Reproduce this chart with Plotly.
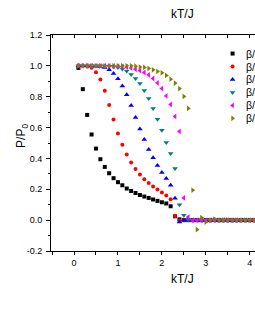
import plotly.graph_objects as go

# x values (kT/J)
kT = [0.1, 0.2, 0.3, 0.4, 0.5, 0.6, 0.7, 0.8, 0.9, 1.0,
      1.1, 1.2, 1.3, 1.4, 1.5, 1.6, 1.7, 1.8, 1.9, 2.0,
      2.1, 2.2, 2.3, 2.4, 2.5, 2.6, 2.7, 2.8, 2.9, 3.0,
      3.1, 3.2, 3.3, 3.4, 3.5, 3.6, 3.7, 3.8, 3.9, 4.0, 4.1]

s_black = [0.987, 0.849, 0.682, 0.555, 0.464, 0.395, 0.345, 0.304, 0.272, 0.246,
           0.226, 0.205, 0.189, 0.176, 0.163, 0.153, 0.144, 0.134, 0.125, 0.116,
           0.108, 0.090, 0.025, 0.005, 0.0, 0.0, 0.0, 0.0, 0.0, 0.0,
           0.0, 0.0, 0.0, 0.0, 0.0, 0.0, 0.0, 0.0, 0.0, 0.0, 0.0]
s_red = [1.000, 0.999, 0.996, 0.987, 0.959, 0.912, 0.838, 0.747, 0.652, 0.562,
         0.488, 0.425, 0.374, 0.332, 0.296, 0.265, 0.241, 0.218, 0.198, 0.179,
         0.160, 0.136, 0.027, -0.003, 0.0, 0.0, 0.0, 0.0, 0.0, 0.0,
         0.0, 0.0, 0.0, 0.0, 0.0, 0.0, 0.0, 0.0, 0.0, 0.0, 0.0]
s_blue = [1.000, 1.000, 1.000, 0.999, 0.998, 0.996, 0.990, 0.974, 0.951, 0.916,
          0.870, 0.812, 0.743, 0.665, 0.591, 0.523, 0.458, 0.405, 0.354, 0.309,
          0.270, 0.226, 0.142, -0.012, 0.0, 0.0, 0.0, 0.0, 0.0, 0.0,
          0.0, 0.0, 0.0, 0.0, 0.0, 0.0, 0.0, 0.0, 0.0, 0.0, 0.0]
s_teal = [1.000, 1.000, 1.000, 1.000, 1.000, 1.000, 0.999, 0.998, 0.995, 0.989,
          0.979, 0.966, 0.944, 0.918, 0.886, 0.840, 0.789, 0.724, 0.654, 0.583,
          0.503, 0.432, 0.335, 0.099, 0.032, 0.003, 0.0, 0.0, 0.0, 0.0,
          0.0, 0.0, 0.0, 0.0, 0.0, 0.0, 0.0, 0.0, 0.0, 0.0, 0.0]
s_magenta = [1.000, 1.000, 1.000, 1.000, 1.000, 1.000, 1.000, 1.000, 0.999, 0.998,
             0.996, 0.993, 0.986, 0.978, 0.969, 0.957, 0.942, 0.918, 0.890, 0.853,
             0.805, 0.750, 0.672, 0.575, 0.144, 0.021, 0.0, 0.0, 0.0, 0.0,
             0.0, 0.0, 0.0, 0.0, 0.0, 0.0, 0.0, 0.0, 0.0, 0.0, 0.0]
s_olive = [1.000, 1.000, 1.000, 1.000, 1.000, 1.000, 1.000, 1.000, 1.000, 1.000,
           1.000, 1.000, 1.000, 0.998, 0.992, 0.990, 0.983, 0.974, 0.964, 0.955,
           0.938, 0.914, 0.888, 0.853, 0.802, 0.724, 0.194, -0.061, 0.017, -0.012,
           0.0, 0.006, 0.0, 0.0, 0.0, 0.0, 0.0, 0.0, 0.0, 0.0, 0.0]

series_names = ["β/", "β/", "β/", "β/", "β/", "β/"]
y_tickvals = [-0.2, 0.0, 0.2, 0.4, 0.6, 0.8, 1.0, 1.2]
y_ticktext = ["-0.2", "0.0", "0.2", "0.4", "0.6", "0.8", "1.0", "1.2"]
x_tickvals = [0, 1, 2, 3, 4]
x_ticktext = ["0", "1", "2", "3", "4"]

series = [s_black, s_red, s_blue, s_teal, s_magenta, s_olive]
colors = ["#000000", "#ff0000", "#0000ff", "#008080", "#ff00ff", "#808000"]
symbols = ["square", "circle", "triangle-up", "triangle-down", "triangle-left", "triangle-right"]
sizes = [4, 4, 5, 5, 5, 5]

FONT = "Liberation Sans, Arial, sans-serif"

fig = go.Figure()
for ys, c, sym, sz, nm in zip(series, colors, symbols, sizes, series_names):
    fig.add_trace(go.Scatter(x=kT, y=ys, mode="markers", name=nm, showlegend=False,
                             marker=dict(color=c, symbol=sym, size=sz, line=dict(width=0)),
                             cliponaxis=True))

# hand-drawn legend keys on a hidden overlay axis
for i, (c, sym, sz, nm) in enumerate(zip(colors, symbols, sizes, series_names)):
    fig.add_trace(go.Scatter(x=[0.89], y=[i], mode="markers", showlegend=False,
                             xaxis="x3", yaxis="y3",
                             marker=dict(color=c, symbol=sym, size=sz, line=dict(width=0))))
    fig.add_annotation(x=0.946, y=i, xref="x3", yref="y3", text=nm, showarrow=False,
                       xanchor="left", yanchor="middle",
                       font=dict(family=FONT, size=10.5, color="black"))

fig.add_trace(go.Scatter(x=[0], y=[2], mode="markers", xaxis="x2", showlegend=False,
                         marker=dict(opacity=0), hoverinfo="skip"))

fig.update_layout(
    width=255, height=330,
    margin=dict(l=51, r=0, t=35, b=79),
    paper_bgcolor="white", plot_bgcolor="white",
    font=dict(family=FONT, size=9, color="black"),
    xaxis=dict(range=[-0.524, 4.12], showline=True, linecolor="black", linewidth=1,
               ticks="outside", ticklen=3, tickcolor="black",
               tickvals=x_tickvals, ticktext=x_ticktext,
               minor=dict(dtick=0.5, tick0=0, ticks="outside", ticklen=3, tickcolor="black"),
               showgrid=False, zeroline=False, tickfont=dict(size=9)),
    xaxis2=dict(overlaying="x", side="top", matches="x", showline=True, linecolor="black",
                linewidth=1, ticks="inside", ticklen=3, tickcolor="black", dtick=0.5, tick0=0,
                showticklabels=False, showgrid=False, zeroline=False),
    yaxis=dict(range=[-0.2, 1.2], showline=True, linecolor="black", linewidth=1,
               ticks="outside", ticklen=4, tickcolor="black",
               tickvals=y_tickvals, ticktext=y_ticktext,
               minor=dict(dtick=0.1, tick0=0, ticks="outside", ticklen=2, tickcolor="black"),
               showgrid=False, zeroline=False, tickfont=dict(size=9), ticklabelstandoff=2),
    xaxis3=dict(overlaying="x", range=[0, 1], visible=False),
    yaxis3=dict(overlaying="y", range=[15.23, -1.43], visible=False),
    annotations=list(fig.layout.annotations) + [
        dict(text="kT/J", x=0.647, y=1.097, xref="paper", yref="paper", showarrow=False,
             xanchor="center", yanchor="middle", font=dict(family=FONT, size=12, color="black")),
        dict(text="kT/J", x=0.647, y=-0.131, xref="paper", yref="paper", showarrow=False,
             xanchor="center", yanchor="middle", font=dict(family=FONT, size=12, color="black")),
        dict(text="P/P<sub>0</sub>", x=-0.142, y=0.533, xref="paper", yref="paper",
             showarrow=False, textangle=-90, xanchor="center", yanchor="middle",
             font=dict(family=FONT, size=12, color="black")),
    ],
)

# remove the browser's default 8px page margin so the figure fills the window
fig.write_html(
    "out.html",
    config={"displayModeBar": False},
    post_script="document.body.style.margin='0';document.body.style.overflow='hidden';"
                "document.documentElement.style.overflow='hidden';",
)
